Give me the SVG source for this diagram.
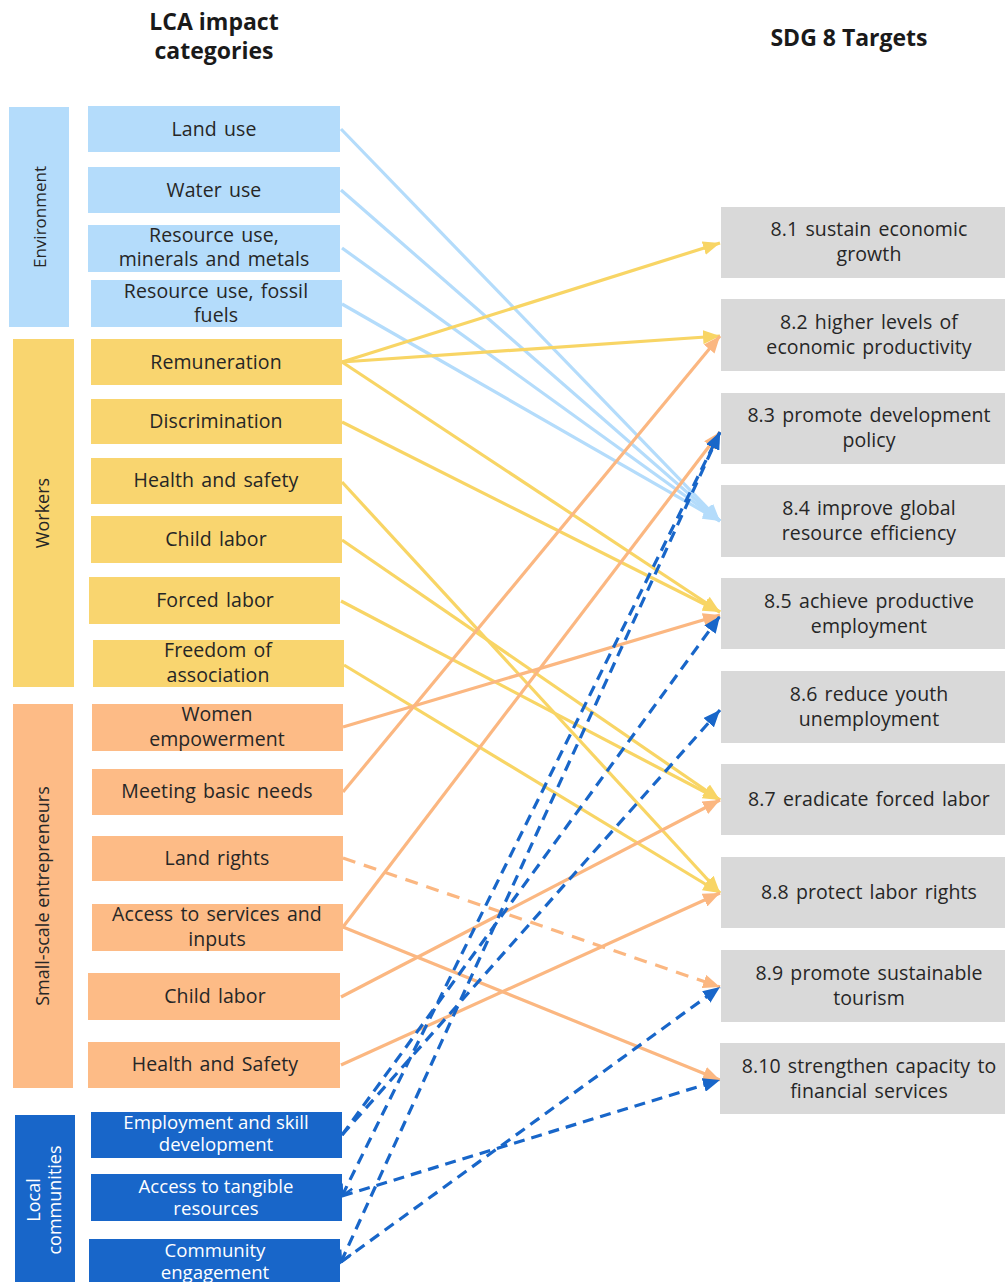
<svg xmlns="http://www.w3.org/2000/svg" width="1005" height="1282" viewBox="0 0 1005 1282">
<defs>
<style>
.t{font-family:"Open Sans","Noto Sans","DejaVu Sans",sans-serif;font-size:19.5px;letter-spacing:0.1px;fill:#262626;text-anchor:middle;word-spacing:2px}
.w{fill:#ffffff;font-size:18.6px;letter-spacing:0;word-spacing:0}
.h{font-family:"Open Sans","Noto Sans","DejaVu Sans",sans-serif;font-size:23px;font-weight:bold;fill:#1a1a1a;text-anchor:middle}
.s{font-family:"Open Sans","Noto Sans","DejaVu Sans",sans-serif;font-size:17px;fill:#262626;text-anchor:middle}
.env{fill:#b4dcfb}
.wrk{fill:#f9d56f}
.sse{fill:#fdbb86}
.loc{fill:#1866c9}
.sdg{fill:#d9d9d9}
.c{fill:none;stroke-width:3.2}
.lb{stroke:#b4dcfb;marker-end:url(#aLB)}
.ye{stroke:#f8d565;marker-end:url(#aYE)}
.or{stroke:#fbb781;marker-end:url(#aOR)}
.bl{stroke:#1866c9;stroke-dasharray:11 7;marker-end:url(#aBL)}
.od{stroke-dasharray:13 9}
</style>
<marker id="aLB" markerUnits="userSpaceOnUse" markerWidth="18" markerHeight="14" refX="17" refY="7" orient="auto"><path d="M0,0 L17,7 L0,14 z" fill="#b4dcfb"/></marker>
<marker id="aYE" markerUnits="userSpaceOnUse" markerWidth="18" markerHeight="14" refX="17" refY="7" orient="auto"><path d="M0,0 L17,7 L0,14 z" fill="#f8d565"/></marker>
<marker id="aOR" markerUnits="userSpaceOnUse" markerWidth="18" markerHeight="14" refX="17" refY="7" orient="auto"><path d="M0,0 L17,7 L0,14 z" fill="#fbb781"/></marker>
<marker id="aBL" markerUnits="userSpaceOnUse" markerWidth="18" markerHeight="14" refX="17" refY="7" orient="auto"><path d="M0,0 L17,7 L0,14 z" fill="#1866c9"/></marker>
<marker id="cBL" markerUnits="userSpaceOnUse" markerWidth="16" markerHeight="16" refX="12" refY="7" orient="auto-start-reverse"><path d="M1,1 L12,7 L1,13" fill="none" stroke="#1866c9" stroke-width="2.6"/></marker>
</defs>
<rect width="1005" height="1282" fill="#ffffff"/>

<g id="headers">
<text class="h" x="214" y="30">LCA impact</text>
<text class="h" x="214" y="59">categories</text>
<text class="h" x="849" y="46">SDG 8 Targets</text>
</g>

<g id="group-environment"><rect class="env" x="9" y="107" width="60" height="220"/><text class="s" transform="translate(46,217) rotate(-90)">Environment</text></g>
<g id="group-workers"><rect class="wrk" x="13" y="339" width="61" height="348"/><text class="s" transform="translate(49,513) rotate(-90)" style="font-size:18px">Workers</text></g>
<g id="group-sse"><rect class="sse" x="13" y="704" width="60" height="384"/><text class="s" transform="translate(49,896) rotate(-90)" style="font-size:18px">Small-scale entrepreneurs</text></g>
<g id="group-local"><rect class="loc" x="15" y="1115" width="60" height="167"/><text class="s" transform="translate(40,1200) rotate(-90)" style="font-size:18px;fill:#ffffff">Local</text><text class="s" transform="translate(61,1200) rotate(-90)" style="font-size:18px;fill:#ffffff">communities</text></g>

<g id="connectors">
<line class="c lb" x1="341" y1="129" x2="720" y2="521"/>
<line class="c lb" x1="341" y1="190" x2="720" y2="521"/>
<line class="c lb" x1="342" y1="248" x2="720" y2="521"/>
<line class="c lb" x1="342" y1="304" x2="720" y2="521"/>
<line class="c ye" x1="342" y1="362" x2="720" y2="243"/>
<line class="c ye" x1="342" y1="362" x2="720" y2="336"/>
<line class="c ye" x1="342" y1="362" x2="720" y2="612"/>
<line class="c ye" x1="342" y1="422" x2="720" y2="612"/>
<line class="c ye" x1="342" y1="482" x2="720" y2="893"/>
<line class="c ye" x1="342" y1="540" x2="720" y2="800"/>
<line class="c ye" x1="341" y1="601" x2="720" y2="800"/>
<line class="c ye" x1="344" y1="665" x2="720" y2="893"/>
<line class="c or" x1="343" y1="727" x2="720" y2="615"/>
<line class="c or" x1="343" y1="792" x2="720" y2="336"/>
<line class="c or od" x1="343" y1="858" x2="720" y2="987"/>
<line class="c or" x1="343" y1="927" x2="720" y2="432"/>
<line class="c or" x1="343" y1="927" x2="720" y2="1080"/>
<line class="c or" x1="341" y1="997" x2="720" y2="800"/>
<line class="c or" x1="341" y1="1065" x2="720" y2="893"/>
<line class="c bl" x1="342" y1="1135" x2="720" y2="616"/>
<line class="c bl" x1="342" y1="1135" x2="720" y2="710"/>
<line class="c bl" x1="342" y1="1196" x2="720" y2="432" style="marker-start:url(#cBL)"/>
<line class="c bl" x1="342" y1="1196" x2="720" y2="1080"/>
<line class="c bl" x1="341" y1="1262" x2="720" y2="432" style="marker-start:url(#cBL)"/>
<line class="c bl" x1="341" y1="1262" x2="720" y2="987"/>
</g>

<g id="n-land-use"><rect class="env" x="88" y="106" width="252" height="46"/><text class="t" x="214" y="136">Land use</text></g>
<g id="n-water-use"><rect class="env" x="88" y="167" width="252" height="46"/><text class="t" x="214" y="197">Water use</text></g>
<g id="n-res-minerals"><rect class="env" x="88" y="225" width="252" height="47"/><text class="t" x="214" y="242">Resource use,</text><text class="t" x="214" y="266">minerals and metals</text></g>
<g id="n-res-fossil"><rect class="env" x="91" y="280" width="251" height="47"/><text class="t" x="216" y="298">Resource use, fossil</text><text class="t" x="216" y="322">fuels</text></g>

<g id="n-remuneration"><rect class="wrk" x="91" y="339" width="251" height="46"/><text class="t" x="216" y="369">Remuneration</text></g>
<g id="n-discrimination"><rect class="wrk" x="91" y="399" width="251" height="45"/><text class="t" x="216" y="428">Discrimination</text></g>
<g id="n-health-safety-w"><rect class="wrk" x="91" y="458" width="251" height="46"/><text class="t" x="216" y="487">Health and safety</text></g>
<g id="n-child-labor-w"><rect class="wrk" x="91" y="516" width="251" height="47"/><text class="t" x="216" y="546">Child labor</text></g>
<g id="n-forced-labor"><rect class="wrk" x="89" y="577" width="251" height="47"/><text class="t" x="215" y="607">Forced labor</text></g>
<g id="n-freedom"><rect class="wrk" x="93" y="640" width="251" height="47"/><text class="t" x="218" y="657">Freedom of</text><text class="t" x="218" y="682">association</text></g>

<g id="n-women"><rect class="sse" x="92" y="704" width="251" height="47"/><text class="t" x="217" y="721">Women</text><text class="t" x="217" y="746">empowerment</text></g>
<g id="n-basic-needs"><rect class="sse" x="92" y="769" width="251" height="46"/><text class="t" x="217" y="798">Meeting basic needs</text></g>
<g id="n-land-rights"><rect class="sse" x="92" y="836" width="251" height="45"/><text class="t" x="217" y="865">Land rights</text></g>
<g id="n-access-services"><rect class="sse" x="92" y="904" width="251" height="47"/><text class="t" x="217" y="921">Access to services and</text><text class="t" x="217" y="946">inputs</text></g>
<g id="n-child-labor-s"><rect class="sse" x="88" y="973" width="252" height="47"/><text class="t" x="215" y="1003">Child labor</text></g>
<g id="n-health-safety-s"><rect class="sse" x="88" y="1042" width="252" height="46"/><text class="t" x="215" y="1071">Health and Safety</text></g>

<g id="n-employment"><rect class="loc" x="91" y="1112" width="251" height="46"/><text class="t w" x="216" y="1129">Employment and skill</text><text class="t w" x="216" y="1151">development</text></g>
<g id="n-tangible"><rect class="loc" x="91" y="1174" width="251" height="47"/><text class="t w" x="216" y="1193">Access to tangible</text><text class="t w" x="216" y="1215">resources</text></g>
<g id="n-community"><rect class="loc" x="89" y="1239" width="251" height="43"/><text class="t w" x="215" y="1257">Community</text><text class="t w" x="215" y="1279">engagement</text></g>

<g id="t-8-1"><rect class="sdg" x="721" y="207" width="284" height="71"/><text class="t" x="869" y="236">8.1 sustain economic</text><text class="t" x="869" y="261">growth</text></g>
<g id="t-8-2"><rect class="sdg" x="721" y="299" width="284" height="72"/><text class="t" x="869" y="329">8.2 higher levels of</text><text class="t" x="869" y="354">economic productivity</text></g>
<g id="t-8-3"><rect class="sdg" x="721" y="393" width="284" height="71"/><text class="t" x="869" y="422">8.3 promote development</text><text class="t" x="869" y="447">policy</text></g>
<g id="t-8-4"><rect class="sdg" x="721" y="485" width="284" height="72"/><text class="t" x="869" y="515">8.4 improve global</text><text class="t" x="869" y="540">resource efficiency</text></g>
<g id="t-8-5"><rect class="sdg" x="721" y="578" width="284" height="71"/><text class="t" x="869" y="608">8.5 achieve productive</text><text class="t" x="869" y="633">employment</text></g>
<g id="t-8-6"><rect class="sdg" x="721" y="671" width="284" height="72"/><text class="t" x="869" y="701">8.6 reduce youth</text><text class="t" x="869" y="726">unemployment</text></g>
<g id="t-8-7"><rect class="sdg" x="721" y="764" width="284" height="71"/><text class="t" x="869" y="806">8.7 eradicate forced labor</text></g>
<g id="t-8-8"><rect class="sdg" x="721" y="857" width="284" height="71"/><text class="t" x="869" y="899">8.8 protect labor rights</text></g>
<g id="t-8-9"><rect class="sdg" x="721" y="950" width="284" height="72"/><text class="t" x="869" y="980">8.9 promote sustainable</text><text class="t" x="869" y="1005">tourism</text></g>
<g id="t-8-10"><rect class="sdg" x="720" y="1043" width="285" height="71"/><text class="t" x="869" y="1073">8.10 strengthen capacity to</text><text class="t" x="869" y="1098">financial services</text></g>
</svg>
